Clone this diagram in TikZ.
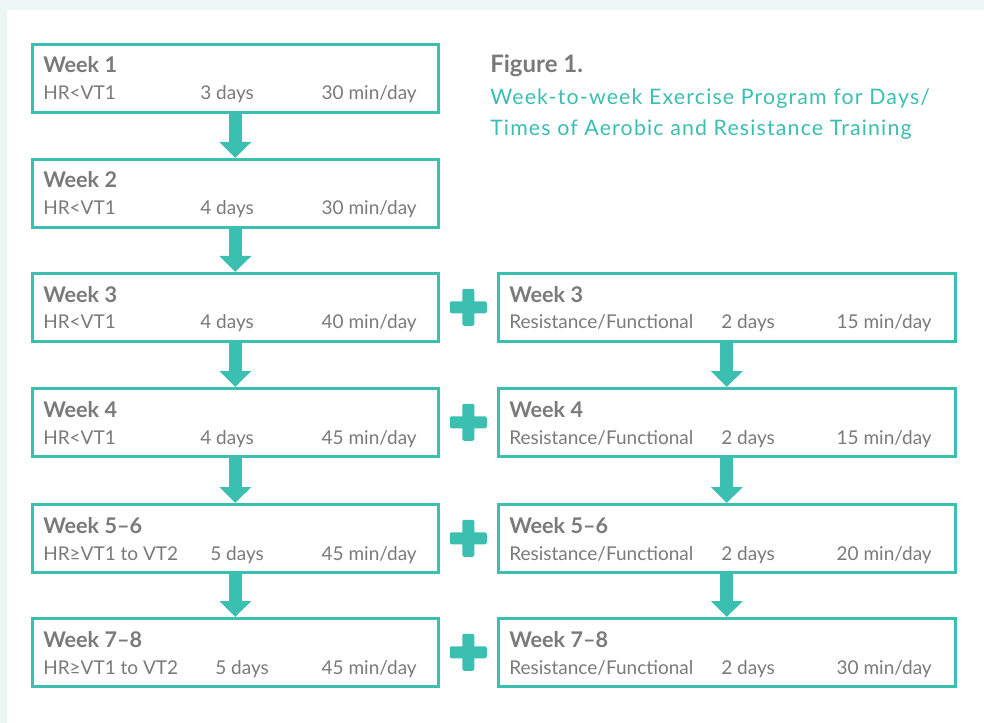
\documentclass[tikz,border=0pt]{standalone}
\usepackage{fontspec}
\setmainfont{Lato}
\usetikzlibrary{arrows.meta,calc}
\definecolor{teal1}{HTML}{3ABFB0}
\definecolor{txtgray}{HTML}{7A7A7A}
\definecolor{mint}{HTML}{ECF6F4}
\newfontfamily\capfont[LetterSpace=5.5]{Lato}

\begin{document}
\begin{tikzpicture}[x=0.75pt,y=-0.75pt,
  wkbox/.style={draw=teal1, line width=1.9pt, fill=white, inner sep=0pt, anchor=north west, minimum height=51pt},
  lbox/.style={wkbox, minimum width=304.5pt},
  rbox/.style={wkbox, minimum width=342.75pt},
  wtitle/.style={anchor=base west, inner sep=0pt, text=txtgray, font=\bfseries\fontsize{16.2}{19}\selectfont},
  wtext/.style={anchor=base west, inner sep=0pt, text=txtgray, font=\fontsize{14.25}{17}\selectfont},
  wend/.style={wtext, anchor=base east},
  down/.style={teal1, line width=10pt, -{Triangle[width=23.25pt,length=12pt]}},
  plus/.style={fill=teal1, rounded corners=1.5pt}]
\useasboundingbox (0,0) rectangle (984,723);
\fill[mint] (0,0) rectangle (984,723);
\fill[white] (7,10) rectangle (984,723);

% caption
\node[anchor=base west, inner sep=0pt, text=txtgray, font=\bfseries\fontsize{18}{21}\selectfont] (fig) at (490,73) {Figure 1.};
\node[anchor=base west, inner sep=0pt, text=teal1, font=\capfont\fontsize{16}{19}\selectfont] (cap1) at (490,105) {Week-to-week Exercise Program for Days/};
\node[anchor=base west, inner sep=0pt, text=teal1, font=\capfont\fontsize{16}{19}\selectfont] (cap2) at (490,136) {Times of Aerobic and Resistance Training};

% aerobic column
\foreach \n/\t/\wk/\hr/\dx/\dd/\mm in {
  1/43/{Week 1}/{HR<VT1}/200/{3 days}/{30 min/day},
  2/158/{Week 2}/{HR<VT1}/200/{4 days}/{30 min/day},
  3/272/{Week 3}/{HR<VT1}/200/{4 days}/{40 min/day},
  4/387/{Week 4}/{HR<VT1}/200/{4 days}/{45 min/day},
  5/503/{Week 5--6}/{HR≥VT1 to VT2}/210/{5 days}/{45 min/day},
  7/617/{Week 7--8}/{HR≥VT1 to VT2}/215/{5 days}/{45 min/day}}
{
  \node[lbox] (w\n) at (31,\t) {};
  \node[wtitle] (w\n-t) at (43,\t+30) {\wk};
  \node[wtext] (w\n-a) at (43,\t+57) {\hr};
  \node[wtext] (w\n-b) at (\dx,\t+57) {\dd};
  \node[wend] (w\n-c) at (417,\t+57) {\mm};
}

% resistance column
\foreach \n/\t/\wk/\mm in {
  3/272/{Week 3}/{15 min/day},
  4/387/{Week 4}/{15 min/day},
  5/503/{Week 5--6}/{20 min/day},
  7/617/{Week 7--8}/{30 min/day}}
{
  \node[rbox] (r\n) at (497,\t) {};
  \node[wtitle] (r\n-t) at (509,\t+30) {\wk};
  \node[wtext] (r\n-a) at (509,\t+57) {Resistance/Functional};
  \node[wtext] (r\n-b) at (721,\t+57) {2 days};
  \node[wend] (r\n-c) at (932,\t+57) {\mm};
  \path (w\n.east) -- (r\n.west) coordinate[midway] (p\n);
  \fill[plus, shift={(p\n)}] (-18.5,-6) rectangle (18.5,6) (-6,-18.5) rectangle (6,18.5);
}

\draw[down] (w1) -- (w2);
\draw[down] (w2) -- (w3);
\draw[down] (w3) -- (w4);
\draw[down] (w4) -- (w5);
\draw[down] (w5) -- (w7);
\draw[down] (r3) -- (r4);
\draw[down] (r4) -- (r5);
\draw[down] (r5) -- (r7);
\end{tikzpicture}
\end{document}
